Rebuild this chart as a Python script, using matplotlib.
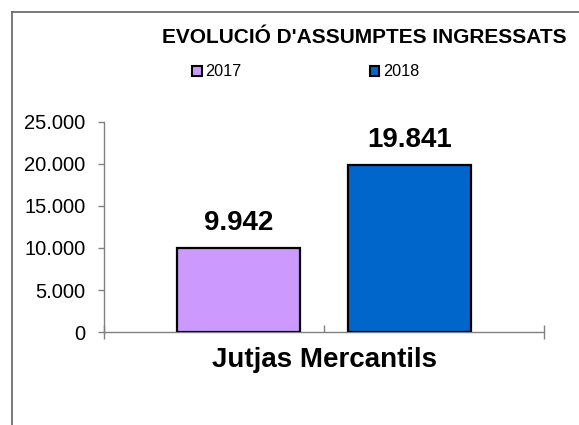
import matplotlib
matplotlib.use("Agg")
import matplotlib.pyplot as plt
from matplotlib.patches import Rectangle
from matplotlib.lines import Line2D
from matplotlib.ticker import FuncFormatter

plt.rcParams['font.family'] = ['Liberation Sans', 'DejaVu Sans']

title = "EVOLUCIÓ D'ASSUMPTES INGRESSATS"
category = "Jutjas Mercantils"
series = ["2017", "2018"]
values = [9942, 19841]
colors = ["#CC99FF", "#0066CC"]
yticks = [0, 5000, 10000, 15000, 20000, 25000]

W, H = 579, 425
fig = plt.figure(figsize=(W / 100, H / 100), dpi=100)
ax = fig.add_axes([104 / W, 1 - 332 / H, 440 / W, 210 / H])

offsets = [-0.194, 0.194]
width = 0.28
bars = []
for off, v, c in zip(offsets, values, colors):
    b = ax.bar(off, v, width=width, color=c, edgecolor="black", linewidth=1.6, zorder=3)
    bars.append(b[0])
    ax.annotate(f"{v:,}".replace(",", "."), xy=(off, v), xytext=(0, 13),
                textcoords="offset points", ha="center", va="baseline",
                fontsize=20, fontweight="bold")

ax.set_xlim(-0.5, 0.5)
ax.set_ylim(0, 25000)
ax.set_yticks(yticks)
ax.yaxis.set_major_formatter(FuncFormatter(lambda v, p: f"{int(v):,}".replace(",", ".")))
ax.tick_params(axis="y", direction="out", length=4.5, width=1, color="#808080",
               labelsize=14.5, pad=9)

ax.set_xticks([0])
ax.set_xticklabels([category], fontsize=20, fontweight="bold")
ax.set_xticks([-0.5, 0.5], minor=True)
ax.tick_params(axis="x", which="major", direction="in", length=5, width=1, color="#808080", pad=11)
ax.tick_params(axis="x", which="minor", direction="inout", length=10, width=1, color="#808080")

for s in ["top", "right"]:
    ax.spines[s].set_visible(False)
for s in ["left", "bottom"]:
    ax.spines[s].set_color("#808080")
    ax.spines[s].set_linewidth(1)

fig.text(364 / W, 1 - 43 / H, title, ha="center", va="baseline", fontsize=15, fontweight="bold")

handles = [Rectangle((0, 0), 1, 1, facecolor=c, edgecolor="black", linewidth=1.5) for c in colors]
fig.legend(handles, series, loc="center left", bbox_to_anchor=(192 / W, 1 - 72 / H),
           ncol=2, frameon=False, fontsize=11.7, handlelength=0.6, handleheight=0.6,
           handletextpad=0.2, columnspacing=7.9, borderpad=0, borderaxespad=0)

fig.add_artist(Line2D([12 / W, 12 / W], [0, 1 - 12 / H], color="#6e6e6e", linewidth=1.3,
                      transform=fig.transFigure))
fig.add_artist(Line2D([12 / W, 1], [1 - 12 / H, 1 - 12 / H], color="#6e6e6e", linewidth=1.3,
                      transform=fig.transFigure))

fig.savefig("out.png", dpi=100)
